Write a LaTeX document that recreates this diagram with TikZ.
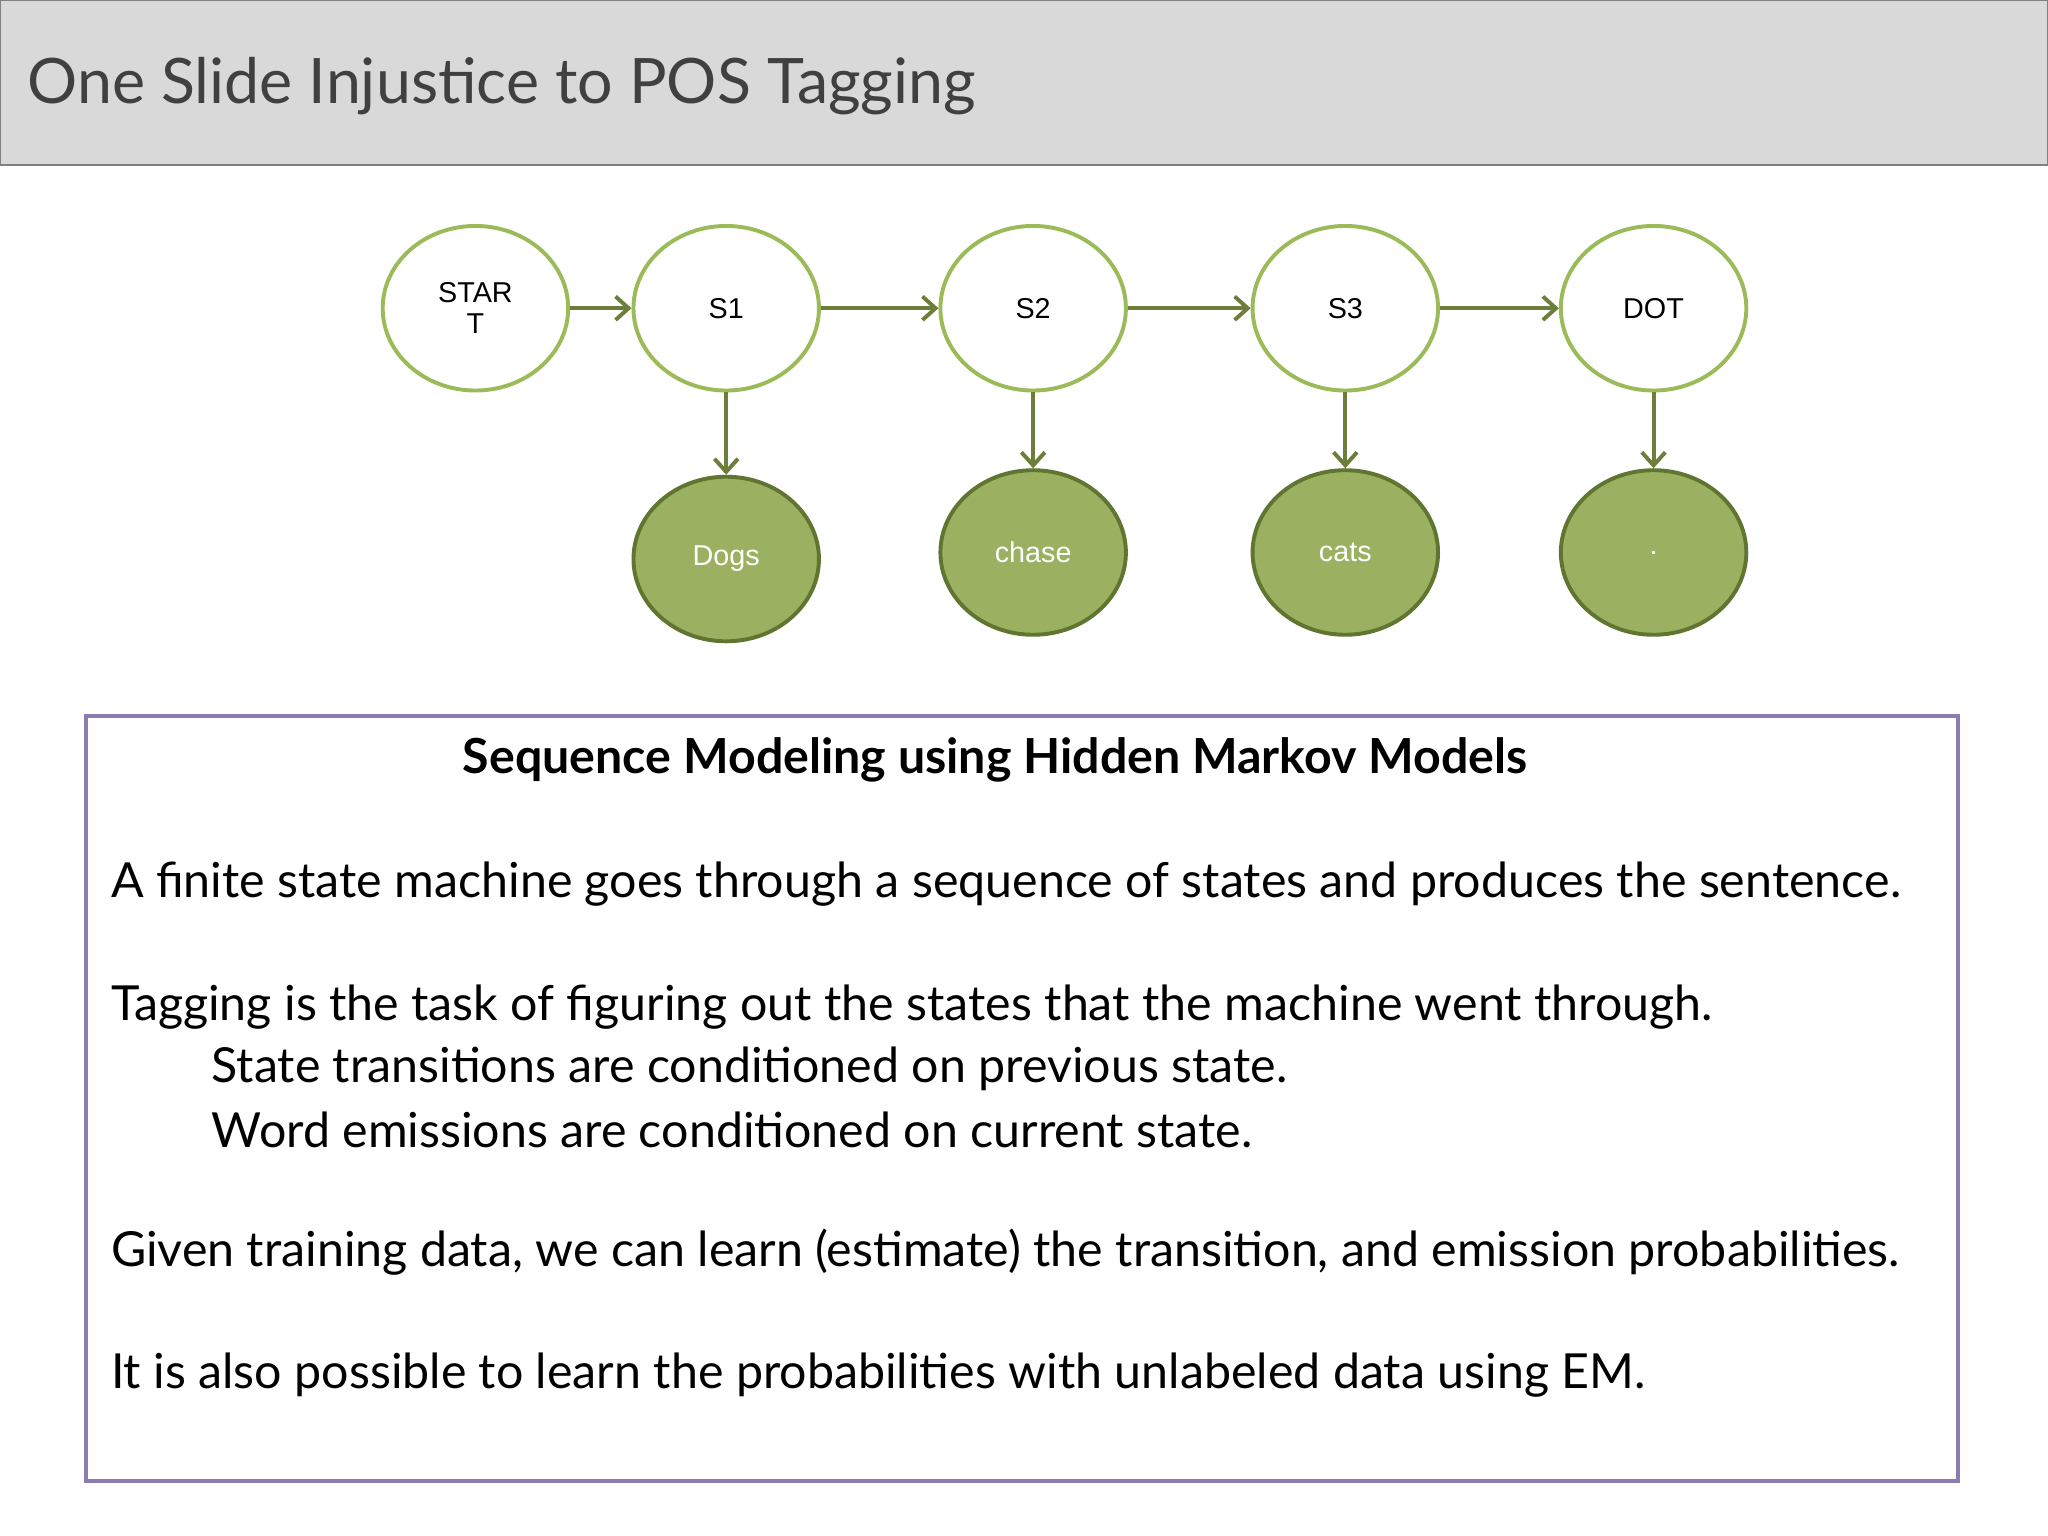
\documentclass[tikz,border=0pt]{standalone}
\usepackage{fontspec}
\setmainfont{Lato}
\newfontfamily\arial{Liberation Sans}
\usetikzlibrary{shapes.geometric,arrows.meta}
\definecolor{st}{HTML}{9BBB59}
\definecolor{ob}{HTML}{9BB060}
\definecolor{obd}{HTML}{5F7530}
\definecolor{arr}{HTML}{6B7F3A}
\definecolor{pur}{HTML}{8B7DB4}
\tikzset{
 state/.style={ellipse,draw=st,line width=1.5pt,fill=white,minimum width=71pt,minimum height=63pt,inner sep=0pt,font=\arial\fontsize{11}{12}\selectfont,align=center},
 obs/.style={ellipse,draw=obd,line width=1.5pt,fill=ob,minimum width=71pt,minimum height=63pt,inner sep=0pt,text=white,font=\arial\fontsize{11}{12}\selectfont},
 conn/.style={draw=arr,line width=1.5pt,-{Straight Barb[length=5pt,width=9pt]}},
 body/.style={anchor=west,font=\fontsize{18.5}{20}\selectfont}
}
\begin{document}
\begin{tikzpicture}[x=0.5pt,y=-0.5pt]
\useasboundingbox (0,0) rectangle (1568,1176);
\fill[white] (0,0) rectangle (1568,1176);
\draw[fill={rgb,255:red,217;green,217;blue,217},draw={rgb,255:red,128;green,128;blue,128},line width=0.8pt] (0,0) rectangle (1568,126);
\node[anchor=west,text={rgb,255:red,64;green,64;blue,64},font=\fontsize{24}{26}\selectfont] (title) at (14,66) {One Slide Injustice to POS Tagging};
\node[state] (start) at (364,236) {STAR\\T};
\node[state] (s1) at (556,236) {S1};
\node[state] (s2) at (791,236) {S2};
\node[state] (s3) at (1030,236) {S3};
\node[state] (dot) at (1266,236) {DOT};
\node[obs] (o1) at (556,428) {Dogs};
\node[obs] (o2) at (791,423) {chase};
\node[obs] (o3) at (1030,423) {cats};
\node[obs] (o4) at (1266,423) {.};
\draw[conn] (start) -- (s1);
\draw[conn] (s1) -- (s2);
\draw[conn] (s2) -- (s3);
\draw[conn] (s3) -- (dot);
\draw[conn] (s1) -- (o1);
\draw[conn] (s2) -- (o2);
\draw[conn] (s3) -- (o3);
\draw[conn] (dot) -- (o4);
\draw[draw=pur,line width=1.5pt] (66,548) rectangle (1499,1134);
\node[font=\bfseries\fontsize{18.5}{20}\selectfont] (head) at (762,582) {Sequence Modeling using Hidden Markov Models};
\node[body] (l1) at (78,677) {A finite state machine goes through a sequence of states and produces the sentence.};
\node[body] (l2) at (78,771) {Tagging is the task of figuring out the states that the machine went through.};
\node[body] (l3) at (155,818) {State transitions are conditioned on previous state.};
\node[body] (l4) at (155,865) {Word emissions are conditioned on current state.};
\node[body] (l5) at (78,959) {Given training data, we can learn (estimate) the transition, and emission probabilities.};
\node[body] (l6) at (78,1053) {It is also possible to learn the probabilities with unlabeled data using EM.};
\end{tikzpicture}
\end{document}
